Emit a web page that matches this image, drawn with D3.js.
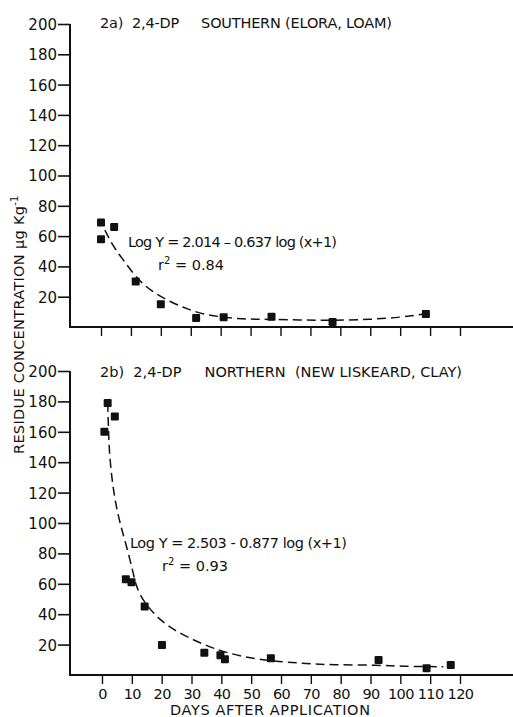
<!DOCTYPE html>
<html><head><meta charset="utf-8">
<script src="https://cdn.jsdelivr.net/npm/d3@7"></script>
<style>body{margin:0;background:#fff}svg{display:block}text{font-family:"DejaVu Sans",sans-serif;fill:#111}</style>
</head><body><svg id="c" width="513" height="717"></svg>
<script>
const xTicks = [0,10,20,30,40,50,60,70,80,90,100,110,120];
const yTicks = [20,40,60,80,100,120,140,160,180,200];

// Panel a: Southern (Elora, loam)
const aDays = [0,0,4.4,11.6,20,31.8,41,57,77.4,108.6];
const aConc = [69,58,66,30,15,6,6.5,6.8,3.3,8.6];
const aFitDays = [1.3,4.1,7.5,11.9,17,23.1,28.7,34.2,40.9,48.7,55.4,66.6,77.6,90,100,108.9];
const aFitConc = [64,53,44.2,32.1,23.3,16.7,11.9,8.4,6.4,5.1,5.1,4.6,4.3,5,6.3,8.9];

// Panel b: Northern (New Liskeard, clay)
const bDays = [0.8,1.9,4.3,8,9.9,14.3,20.1,34.3,39.7,41.2,56.6,92.7,108.8,116.9];
const bConc = [160,179,170,63,61,45,19.7,14.7,13,10.3,11,9.9,4.4,6.6];
const bFitDays = [1.9,2.2,2.4,3.25,4.36,6,8.3,10.5,11.6,14.4,19.4,25,32.9,41.8,53,66.4,77.5,92,103,114.4];
const bFitConc = [179,161,148,130,115,99.8,84.4,66.9,57,47,36,28.5,20.9,14.3,9.9,7.7,6.6,6.6,5.5,5.5];

const svg = d3.select("#c");

function panel(o){
  const x = d3.scaleLinear().domain([0,120]).range(o.xr);
  const y = d3.scaleLinear().domain([0,200]).range(o.yr);
  const g = svg.append("g");
  // y axis
  const ya = g.append("g").attr("transform",`translate(70,0)`)
    .call(d3.axisLeft(y).tickValues(yTicks).tickSize(12).tickPadding(1).tickFormat(d3.format("d")));
  ya.select(".domain").remove();
  ya.selectAll(".tick line").attr("stroke","#111").attr("stroke-width",1.6);
  ya.selectAll(".tick text").style("font-size","15px").attr("dy","0.36em");
  // x axis
  const xa = g.append("g").attr("transform",`translate(0,${o.yr[0]})`)
    .call(d3.axisBottom(x).tickValues(xTicks).tickSize(9).tickPadding(5).tickFormat(o.labels?d3.format("d"):""));
  xa.select(".domain").remove();
  xa.selectAll(".tick line").attr("stroke","#111").attr("stroke-width",1.4);
  xa.selectAll(".tick text").style("font-size","14.5px").style("letter-spacing","-0.6px");
  // axis lines
  g.append("line").attr("x1",70).attr("x2",70).attr("y1",y(200)).attr("y2",y(0)+1)
    .attr("stroke","#111").attr("stroke-width",2);
  g.append("line").attr("x1",69).attr("x2",513).attr("y1",y(0)).attr("y2",y(0))
    .attr("stroke","#111").attr("stroke-width",2);
  // fit curve
  const fit = o.fd.map((d,i)=>[d,o.fc[i]]);
  g.append("path").datum(fit)
    .attr("d",d3.line().x(d=>x(d[0])).y(d=>y(d[1])).curve(d3.curveBasis))
    .attr("fill","none").attr("stroke","#111").attr("stroke-width",1.5)
    .attr("stroke-dasharray","9,5");
  // points
  const pts = o.d.map((d,i)=>[d,o.c[i]]);
  g.selectAll("rect.p").data(pts).enter().append("rect")
    .attr("x",d=>x(d[0])-4).attr("y",d=>y(d[1])-4).attr("width",8).attr("height",8)
    .attr("rx",1).attr("fill","#111");
  // title
  g.append("text").attr("x",100).attr("y",o.ty).style("font-size","14.5px")
    .attr("textLength",o.tl).attr("xml:space","preserve").text(o.title);
  // equation
  g.append("text").attr("x",o.ex).attr("y",o.ey).style("font-size","14.5px")
    .attr("textLength",o.el).text(o.eq);
  const r = g.append("text").attr("x",o.rx).attr("y",o.ey+23).style("font-size","14.5px");
  r.append("tspan").text("r");
  r.append("tspan").attr("dy",-6).style("font-size","10px").text("2");
  r.append("tspan").attr("dy",6).text(" = " + o.r2);
}

panel({xr:[101,460], yr:[327,24], d:aDays, c:aConc, fd:aFitDays, fc:aFitConc, labels:false,
  title:"2a)  2,4-DP     SOUTHERN (ELORA, LOAM)", ty:28, tl:292,
  eq:"Log Y = 2.014 \u2013 0.637 log (x+1)", ex:128, ey:247, el:209, rx:158, r2:"0.84"});
panel({xr:[102,460], yr:[675,371], d:bDays, c:bConc, fd:bFitDays, fc:bFitConc, labels:true,
  title:"2b)  2,4-DP     NORTHERN  (NEW LISKEARD, CLAY)", ty:377, tl:362,
  eq:"Log Y = 2.503 - 0.877 log (x+1)", ex:130, ey:548, el:217, rx:162, r2:"0.93"});

svg.append("text").attr("x",270).attr("y",715).attr("text-anchor","middle")
  .style("font-size","14.5px").attr("textLength",200).text("DAYS AFTER APPLICATION");

const yl = svg.append("text").attr("transform","translate(24,454) rotate(-90)")
  .style("font-size","14.5px");
yl.append("tspan").attr("textLength",248).text("RESIDUE CONCENTRATION \u00b5g Kg");
yl.append("tspan").attr("dy",-6).style("font-size","10px").text("-1");
</script></body></html>
